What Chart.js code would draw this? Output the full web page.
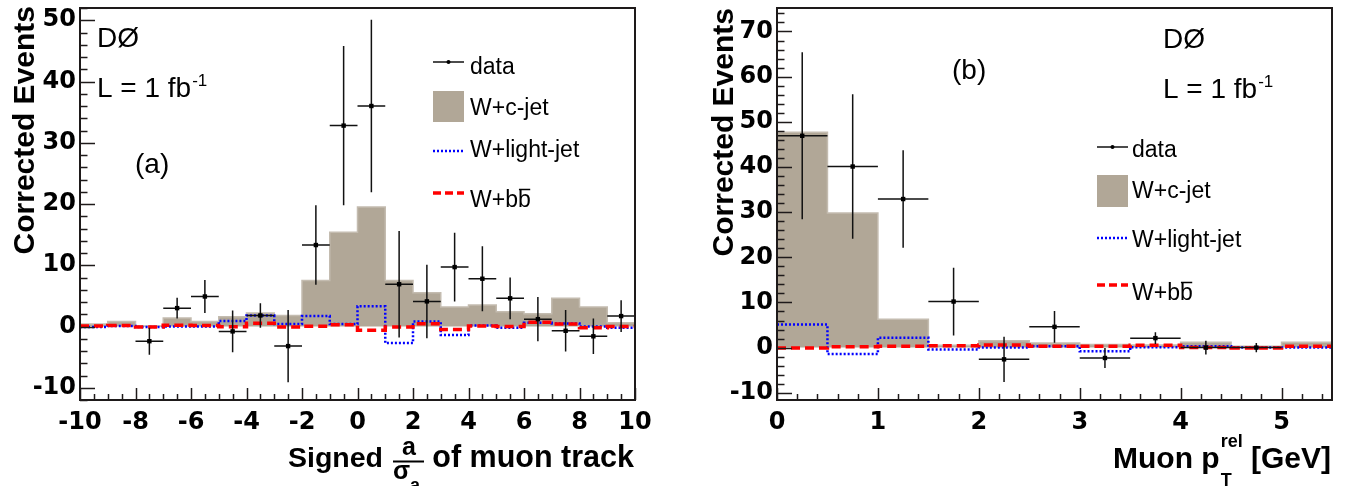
<!DOCTYPE html>
<html><head><meta charset="utf-8">
<script src="https://cdn.jsdelivr.net/npm/chart.js"></script>
<style>
html,body{margin:0;padding:0;background:#fff;width:1345px;height:486px;overflow:hidden}
#wrap{position:relative;width:1345px;height:486px}
canvas{position:absolute;top:0}
#ca{left:0}
#cb{left:680px}
</style></head><body>
<div id="wrap"><canvas id="ca" width="660" height="486"></canvas><canvas id="cb" width="665" height="486"></canvas></div>
<script>
// ---------- Panel (a): signed a/sigma_a ----------
const aEdges   = [-10,-9,-8,-7,-6,-5,-4,-3,-2,-1,0,1,2,3,4,5,6,7,8,9,10];
const aCJet    = [0.4,0.8,0.1,1.4,0.8,1.6,2.2,1.8,7.5,15.4,19.5,7.5,5.5,3.2,3.5,2.4,2.1,4.6,3.2,0.6];
const aLight   = [-0.1,0.1,-0.1,0.0,0.0,0.9,1.8,0.4,1.7,0.4,3.3,-2.7,0.8,-1.4,0.15,-0.2,0.6,0.5,0.0,-0.2];
const aBB      = [0.1,0.15,-0.1,0.2,0.15,-0.05,0.55,-0.1,0.05,0.3,-0.6,-0.1,0.45,-0.5,0.1,0.0,0.7,0.4,-0.2,0.0];
const aDataX   = [-7.5,-6.5,-5.5,-4.5,-3.5,-2.5,-1.5,-0.5,0.5,1.5,2.5,3.5,4.5,5.5,6.5,7.5,8.5,9.5];
const aDataY   = [-2.4,3.0,4.9,-0.8,1.8,-3.2,13.3,32.8,36.0,6.9,4.1,9.7,7.8,4.6,1.2,-0.7,-1.6,1.7];
const aDataErr = [2.2,1.7,2.7,3.4,2.0,5.9,6.5,13.0,14.1,8.7,6.0,5.6,5.3,3.4,3.6,3.4,2.9,2.6];
const aXTicks  = [-10,-8,-6,-4,-2,0,2,4,6,8,10];
const aYTicks  = [-10,0,10,20,30,40,50];

// ---------- Panel (b): muon pT rel ----------
const bEdges   = [0,0.5,1,1.5,2,2.5,3,3.5,4,4.5,5,5.5];
const bCJet    = [47.7,29.8,6.3,0.5,1.5,1.0,0.7,0.6,1.2,0.3,1.2];
const bLight   = [5.1,-1.4,2.2,-0.4,0.0,0.3,-0.8,0.1,0.3,0.0,0.0];
const bBB      = [-0.1,0.2,0.3,0.4,0.6,0.3,0.3,0.5,0.0,-0.1,0.3];
const bDataX   = [0.25,0.75,1.25,1.75,2.25,2.75,3.25,3.75,4.25,4.75];
const bDataY   = [46.9,40.1,32.9,10.2,-2.6,4.6,-2.3,2.1,0.0,0.0];
const bDataErr = [18.5,16.0,10.8,7.5,5.0,3.5,2.2,1.3,1.5,1.0];
const bXTicks  = [0,1,2,3,4,5];
const bYTicks  = [-10,0,10,20,30,40,50,60,70];

const LABELS = { data:'data', c:'W+c-jet', l:'W+light-jet', b:'W+bb' };

const GRAY = '#b1a797', BLUE = '#0000ff', RED = '#ff0000';
const SANS = '"Liberation Sans", Arial, sans-serif';

function steps(edges, vals){
  const pts = vals.map((v,i)=>({x:edges[i], y:v}));
  pts.push({x:edges[edges.length-1], y:vals[vals.length-1]});
  return pts;
}
function points(xs, ys){ return xs.map((x,i)=>({x:x, y:ys[i]})); }

function datasets(edges, cj, lj, bb, dx, dy, de, halfW){
  return [
    {label:LABELS.data, data:points(dx,dy), showLine:false, pointStyle:'rect', pointRadius:2.2,
     pointBackgroundColor:'#000', pointBorderColor:'#000', pointBorderWidth:0, order:0,
     errY:de, errX:halfW},
    {label:LABELS.b, data:steps(edges,bb), stepped:true, borderColor:RED, borderWidth:3.5,
     borderDash:[9,5], pointRadius:0, fill:false, order:1},
    {label:LABELS.l, data:steps(edges,lj), stepped:true, borderColor:BLUE, borderWidth:2.5,
     borderDash:[2,2], pointRadius:0, fill:false, order:2},
    {label:LABELS.c, data:steps(edges,cj), stepped:true, borderColor:'#c4bcb0', borderWidth:1.5,
     backgroundColor:GRAY, pointRadius:0, fill:'origin', order:3}
  ];
}

function drawFrameTicks(chart, cfg){
  const {ctx, chartArea:ca, scales} = chart;
  const x = scales.x, y = scales.y;
  ctx.save();
  ctx.strokeStyle = '#1e1a1a'; ctx.lineWidth = 1.5;
  const n0 = Math.ceil(y.min/cfg.yMinor - 1e-9), n1 = Math.floor(y.max/cfg.yMinor + 1e-9);
  for (let n=n0; n<=n1; n++){
    const v = n*cfg.yMinor;
    const major = Math.abs(v/cfg.yMajor - Math.round(v/cfg.yMajor)) < 1e-6;
    const py = Math.round(y.getPixelForValue(v)) + 0.5;
    ctx.beginPath(); ctx.moveTo(ca.left, py); ctx.lineTo(ca.left + (major?15:7.5), py); ctx.stroke();
  }
  const m0 = Math.ceil(x.min/cfg.xMinor - 1e-9), m1 = Math.floor(x.max/cfg.xMinor + 1e-9);
  for (let m=m0; m<=m1; m++){
    const v = m*cfg.xMinor;
    const major = Math.abs(v/cfg.xMajor - Math.round(v/cfg.xMajor)) < 1e-6;
    const px = Math.round(x.getPixelForValue(v)) + 0.5;
    ctx.beginPath(); ctx.moveTo(px, ca.bottom); ctx.lineTo(px, ca.bottom - (major?12:6)); ctx.stroke();
  }
  ctx.lineWidth = 2;
  ctx.strokeRect(ca.left, ca.top, ca.right-ca.left, ca.bottom-ca.top);
  ctx.restore();
}

function drawErrors(chart){
  const {ctx, scales} = chart;
  const x = scales.x, y = scales.y;
  chart.data.datasets.forEach(ds=>{
    if (!ds.errY) return;
    ctx.save();
    ctx.strokeStyle = '#111'; ctx.lineWidth = 1.5;
    ds.data.forEach((p,i)=>{
      const px = x.getPixelForValue(p.x), py = y.getPixelForValue(p.y);
      const pyT = y.getPixelForValue(p.y + ds.errY[i]), pyB = y.getPixelForValue(p.y - ds.errY[i]);
      const pxL = x.getPixelForValue(p.x - ds.errX), pxR = x.getPixelForValue(p.x + ds.errX);
      ctx.beginPath();
      ctx.moveTo(px, pyT); ctx.lineTo(px, pyB);
      ctx.moveTo(pxL, py); ctx.lineTo(pxR, py);
      ctx.stroke();
      ctx.fillStyle = '#000';
      ctx.fillRect(px-2.2, py-2.2, 4.4, 4.4);
    });
    ctx.restore();
  });
}

function text(ctx, s, x, y, font, align){
  ctx.font = font; ctx.textAlign = align || 'left'; ctx.textBaseline = 'alphabetic';
  ctx.fillText(s, x, y);
  return ctx.measureText(s).width;
}

function drawLegend(ctx, L){
  const font = '23px ' + SANS;
  ctx.save();
  ctx.strokeStyle = '#111'; ctx.lineWidth = 1.5;
  ctx.beginPath(); ctx.moveTo(L.sx0, L.dataY); ctx.lineTo(L.sx1, L.dataY); ctx.stroke();
  ctx.fillStyle = '#000';
  ctx.beginPath(); ctx.arc((L.sx0+L.sx1)/2, L.dataY, 2, 0, Math.PI*2); ctx.fill();
  text(ctx, LABELS.data, L.tx, L.dataB, font);
  ctx.fillStyle = GRAY; ctx.fillRect(L.sx0, L.boxT, L.sx1-L.sx0, L.boxB-L.boxT);
  ctx.fillStyle = '#000';
  text(ctx, LABELS.c, L.tx, L.boxTxt, font);
  ctx.strokeStyle = BLUE; ctx.lineWidth = 2.5; ctx.setLineDash([2,2]);
  ctx.beginPath(); ctx.moveTo(L.sx0, L.lightY); ctx.lineTo(L.sx1, L.lightY); ctx.stroke();
  text(ctx, LABELS.l, L.tx, L.lightB, font);
  ctx.strokeStyle = RED; ctx.lineWidth = 3.5; ctx.setLineDash([8,4]);
  ctx.beginPath(); ctx.moveTo(L.sx0, L.bbY); ctx.lineTo(L.sx1, L.bbY); ctx.stroke();
  ctx.setLineDash([]);
  const w = text(ctx, LABELS.b, L.tx, L.bbB, font);
  ctx.font = font;
  const wb = ctx.measureText('b').width;
  ctx.strokeStyle = '#000'; ctx.lineWidth = 1.5;
  ctx.beginPath(); ctx.moveTo(L.tx + w - wb + 1, L.bbB - 17.5); ctx.lineTo(L.tx + w - 0.5, L.bbB - 17.5); ctx.stroke();
  ctx.restore();
}

function drawLumi(ctx, x, yD, yL){
  const f = '28px ' + SANS;
  ctx.fillStyle = '#000';
  text(ctx, 'DØ', x, yD, f);
  const w = text(ctx, 'L = 1 fb', x, yL, f);
  text(ctx, '-1', x + w + 1, yL - 11, '17px ' + SANS);
}

function drawYTitle(ctx, xBase, yTop){
  ctx.save();
  ctx.translate(xBase, yTop);
  ctx.rotate(-Math.PI/2);
  ctx.fillStyle = '#000';
  text(ctx, 'Corrected Events', 0, 0, 'bold 30px ' + SANS, 'right');
  ctx.restore();
}

function annotA(chart){
  const ctx = chart.ctx;
  ctx.save();
  drawLumi(ctx, 97, 46.5, 96.5);
  text(ctx, '(a)', 135, 173, '28px ' + SANS);
  drawLegend(ctx, {sx0:433, sx1:464, tx:470, dataY:62, dataB:74, boxT:91, boxB:122, boxTxt:115,
                   lightY:151, lightB:157, bbY:193, bbB:207});
  drawYTitle(ctx, 34, 6);
  text(ctx, 'Signed', 288, 467, 'bold 28.5px ' + SANS);
  text(ctx, 'a', 409, 455, 'bold 25px ' + SANS, 'center');
  ctx.strokeStyle = '#000'; ctx.lineWidth = 2;
  ctx.beginPath(); ctx.moveTo(393, 461.5); ctx.lineTo(424, 461.5); ctx.stroke();
  text(ctx, 'σ', 393, 479, 'bold 25px ' + SANS);
  text(ctx, 'a', 410, 491, 'bold 18px ' + SANS);
  text(ctx, 'of muon track', 634, 467, 'bold 30.5px ' + SANS, 'right');
  ctx.restore();
}

function annotB(chart){
  const ctx = chart.ctx;
  ctx.save();
  ctx.translate(-680, 0);
  drawLumi(ctx, 1163, 48, 98);
  text(ctx, '(b)', 952, 78.5, '28px ' + SANS);
  drawLegend(ctx, {sx0:1097, sx1:1128, tx:1132, dataY:147, dataB:157, boxT:175, boxB:207, boxTxt:198,
                   lightY:238, lightB:247, bbY:285, bbB:300});
  drawYTitle(ctx, 733, 8);
  const fb = 'bold 30px ' + SANS, fs = 'bold 18px ' + SANS;
  ctx.font = fb;
  const w1 = ctx.measureText('Muon p').width;
  const w3 = ctx.measureText(' [GeV]').width;
  ctx.font = fs;
  const wsup = ctx.measureText('rel').width;
  const total = w1 + 1 + wsup + w3;
  const x0 = 1331 - total;
  ctx.fillStyle = '#000';
  text(ctx, 'Muon p', x0, 468, fb);
  text(ctx, 'rel', x0 + w1 + 1, 447, fs);
  text(ctx, 'T', x0 + w1 + 1, 486, fs);
  text(ctx, ' [GeV]', x0 + w1 + 1 + wsup, 468, fb);
  ctx.restore();
}

function makeChart(id, dsets, xr, yr, xt, yt, yW, padR, tickCfg, annot){
  const tickFont = {family:'"DejaVu Sans", sans-serif', weight:'bold', size:24};
  return new Chart(document.getElementById(id), {
    type:'line',
    data:{datasets:dsets},
    options:{
      responsive:false, animation:false, events:[],
      layout:{padding:{top:8, right:padR, left:0, bottom:0}},
      plugins:{legend:{display:false}, tooltip:{enabled:false}},
      scales:{
        x:{type:'linear', min:xr[0], max:xr[1],
           grid:{display:false, drawTicks:false, tickLength:0}, border:{display:false},
           afterBuildTicks:s=>{ s.ticks = xt.map(v=>({value:v})); },
           afterFit:s=>{ s.height = 86; s.paddingLeft = 0; s.paddingRight = 0; },
           ticks:{font:tickFont, color:'#000', padding:8, maxRotation:0, autoSkip:false}},
        y:{type:'linear', min:yr[0], max:yr[1],
           grid:{display:false, drawTicks:false, tickLength:0}, border:{display:false},
           afterBuildTicks:s=>{ s.ticks = yt.map(v=>({value:v})); },
           afterFit:s=>{ s.width = yW; s.paddingTop = 0; s.paddingBottom = 0; },
           ticks:{font:tickFont, color:'#000', padding:4, autoSkip:false}}
      }
    },
    plugins:[{
      id:'rootStyle'+id,
      afterDatasetsDraw(chart){ drawErrors(chart); drawFrameTicks(chart, tickCfg); },
      afterDraw(chart){ annot(chart); }
    }]
  });
}

makeChart('ca', datasets(aEdges,aCJet,aLight,aBB,aDataX,aDataY,aDataErr,0.5),
  [-10,10], [-12,52], aXTicks, aYTicks, 80, 25,
  {yMajor:10, yMinor:2, xMajor:2, xMinor:0.5}, annotA);

makeChart('cb', datasets(bEdges,bCJet,bLight,bBB,bDataX,bDataY,bDataErr,0.25),
  [0,5.5], [-11.6,75.2], bXTicks, bYTicks, 97, 13,
  {yMajor:10, yMinor:2, xMajor:1, xMinor:0.2}, annotB);
</script>
</body></html>
